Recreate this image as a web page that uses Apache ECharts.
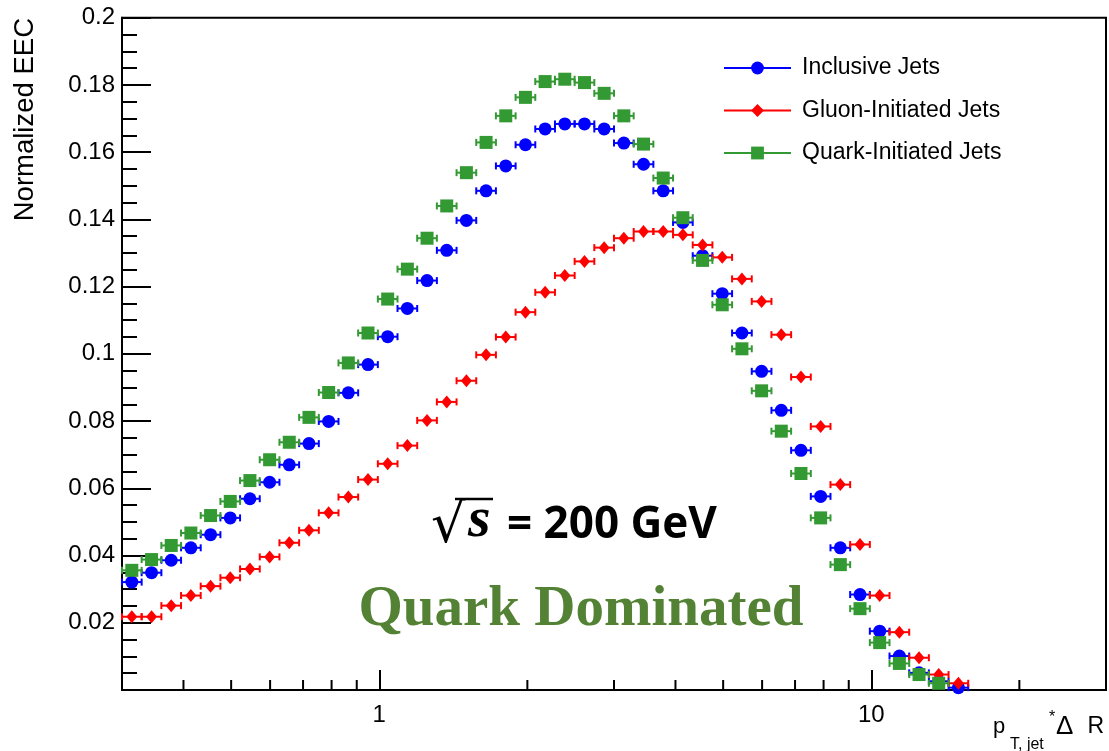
<!DOCTYPE html>
<html>
<head>
<meta charset="utf-8">
<script src="https://cdn.jsdelivr.net/npm/echarts@6.0.0/dist/echarts.min.js"></script>
<style>html,body{margin:0;padding:0;background:#fff}#c{width:1109px;height:751px}</style>
</head>
<body>
<div id="c"></div>
<script>
// ---- data ----
const binEdges = [0.3,0.3289,0.3607,0.3955,0.4336,0.4755,0.5213,0.5716,0.6268,0.6873,0.7536,0.8263,0.9060,0.9934,1.0892,1.1943,1.3095,1.4359,1.5744,1.7263,1.8929,2.0755,2.2757,2.4953,2.7360,3.0,3.2894,3.6068,3.9548,4.3363,4.7547,5.2134,5.7164,6.2679,6.8726,7.5357,8.2627,9.0599,9.9339,10.892,11.943,13.095,14.359,15.744];
const binCenters = [0.3141,0.3445,0.3777,0.4141,0.4541,0.4979,0.5459,0.5986,0.6563,0.7197,0.7891,0.8652,0.9487,1.0402,1.1406,1.2506,1.3713,1.5036,1.6486,1.8077,1.9821,2.1733,2.3830,2.6129,2.8650,3.1414,3.4445,3.7768,4.1412,4.5407,4.9788,5.4591,5.9858,6.5633,7.1965,7.8908,8.6521,9.4868,10.402,11.406,12.506,13.713,15.036];
const inclusiveJets = [0.0321,0.0349,0.0386,0.0423,0.0462,0.0512,0.0569,0.0618,0.0670,0.0733,0.0799,0.0884,0.0968,0.1051,0.1135,0.1218,0.1308,0.1397,0.1485,0.1559,0.1622,0.1669,0.1684,0.1684,0.1669,0.1627,0.1564,0.1485,0.1391,0.1292,0.1179,0.1062,0.0948,0.0832,0.0713,0.0576,0.0423,0.0284,0.0175,0.0101,0.0051,0.0026,0.0007];
const gluonJets = [0.0218,0.0218,0.0251,0.0281,0.0309,0.0334,0.0360,0.0396,0.0438,0.0475,0.0527,0.0574,0.0626,0.0673,0.0727,0.0802,0.0857,0.0920,0.0997,0.1050,0.1124,0.1183,0.1233,0.1275,0.1316,0.1344,0.1364,0.1364,0.1354,0.1324,0.1287,0.1223,0.1156,0.1057,0.0931,0.0784,0.0611,0.0433,0.0281,0.0172,0.0096,0.0046,0.0020];
const quarkJets = [0.0356,0.0388,0.0430,0.0467,0.0519,0.0561,0.0623,0.0685,0.0737,0.0811,0.0885,0.0973,0.1062,0.1163,0.1252,0.1344,0.1440,0.1539,0.1629,0.1708,0.1763,0.1810,0.1817,0.1807,0.1775,0.1708,0.1624,0.1523,0.1405,0.1278,0.1146,0.1015,0.0890,0.0770,0.0644,0.0512,0.0373,0.0242,0.0141,0.0079,0.0046,0.0020,null];
const seriesNames = ['Inclusive Jets','Gluon-Initiated Jets','Quark-Initiated Jets'];
const xTickValues = [1, 10];
const xTickLabels = ['1', '10'];
const xMinorTicks = [0.4,0.5,0.6,0.7,0.8,0.9,2,3,4,5,6,7,8,9,20];

// ---- styles ----
const SANS = '"Liberation Sans", Arial, Helvetica, sans-serif';
const styles = [
  {color:'#0000ff', symbol:'circle', size:13},
  {color:'#ff0000', symbol:'diamond', size:[11,13]},
  {color:'#339933', symbol:'rect', size:13}
];
const groups = [inclusiveJets, gluonJets, quarkJets];

function points(vals){
  const out = [];
  vals.forEach((v,i)=>{ if (v !== null) out.push([binCenters[i], v]); });
  return out;
}
function errData(vals){
  const out = [];
  vals.forEach((v,i)=>{ if (v !== null) out.push([binEdges[i], binEdges[i+1], v]); });
  return out;
}
function errRender(color){
  return function(params, api){
    const lo = api.coord([api.value(0), api.value(2)]);
    const hi = api.coord([api.value(1), api.value(2)]);
    const c = 3.5, st = {stroke: color, lineWidth: 2};
    return {type:'group', children:[
      {type:'line', shape:{x1:lo[0], y1:lo[1], x2:hi[0], y2:hi[1]}, style:st},
      {type:'line', shape:{x1:lo[0], y1:lo[1]-c, x2:lo[0], y2:lo[1]+c}, style:st},
      {type:'line', shape:{x1:hi[0], y1:hi[1]-c, x2:hi[0], y2:hi[1]+c}, style:st}
    ]};
  };
}

const series = [];
groups.forEach((vals, k)=>{
  const s = styles[k];
  series.push({
    type:'custom', name: seriesNames[k] + ' err', silent:true, clip:false,
    data: errData(vals), encode:{x:[0,1], y:2},
    renderItem: errRender(s.color), z: 2 + k*2
  });
  series.push({
    type:'line', name: seriesNames[k], data: points(vals),
    symbol: s.symbol, symbolSize: s.size, showSymbol:true, showAllSymbol:true,
    itemStyle:{color:s.color, opacity:1},
    lineStyle:{color:s.color, width:2, opacity:0},
    emphasis:{disabled:true}, silent:true, z: 3 + k*2
  });
});
series.push({
  type:'custom', name:'minor ticks', silent:true, clip:false,
  data: xMinorTicks.map(v=>[v, 0]), encode:{x:0, y:1}, z: 20,
  renderItem: function(params, api){
    const p = api.coord([api.value(0), 0]);
    return {type:'line', shape:{x1:p[0], y1:p[1], x2:p[0], y2:p[1]-10}, style:{stroke:'#000', lineWidth:2}};
  }
});

const chart = echarts.init(document.getElementById('c'), null, {renderer:'canvas'});
chart.setOption({
  animation:false,
  backgroundColor:'#fff',
  grid:{left:122, right:3, top:17.7, bottom:61, show:true, borderColor:'#000', borderWidth:2, containLabel:false, outerBoundsMode:'none'},
  tooltip:{show:false},
  legend:{
    orient:'vertical', left:723, top:56.5, padding:0, itemWidth:67, itemHeight:16, itemGap:19.5,
    selectedMode:false, data: seriesNames,
    lineStyle:{width:2, opacity:1},
    textStyle:{fontSize:23, color:'#000', fontFamily:SANS, padding:[0,0,0,6]}
  },
  xAxis:{
    type:'log', logBase:10, min:0.3, max:30,
    axisLine:{onZero:false, lineStyle:{color:'#000', width:2}},
    axisTick:{inside:true, length:20, lineStyle:{color:'#000', width:2}},
    minorTick:{show:false},
    splitLine:{show:false},
    axisLabel:{
      fontSize:24, color:'#000', fontFamily:SANS, margin:13, showMinLabel:true, showMaxLabel:true,
      formatter:function(v){
        for (let i=0;i<xTickValues.length;i++){ if (Math.abs(v - xTickValues[i]) < 1e-6*xTickValues[i]) return xTickLabels[i]; }
        return '';
      }
    }
  },
  yAxis:{
    type:'value', min:0, max:0.2, interval:0.02,
    axisLine:{show:true, onZero:false, lineStyle:{color:'#000', width:2}},
    axisTick:{show:true, inside:true, length:29, lineStyle:{color:'#000', width:2}},
    minorTick:{show:true, splitNumber:4, length:15, lineStyle:{color:'#000', width:2}},
    splitLine:{show:false}, minorSplitLine:{show:false},
    axisLabel:{
      fontSize:24, color:'#000', fontFamily:SANS, margin:7,
      formatter:function(v){ return Math.abs(v) < 1e-9 ? '' : String(+v.toFixed(3)); }
    }
  },
  graphic:[
    {type:'text', x:25, y:18, rotation:Math.PI/2, z:100,
     style:{text:'Normalized EEC', font:'27.5px ' + SANS, fill:'#000', align:'right', verticalAlign:'middle'}},
    {type:'text', x:993, y:727, z:100, style:{text:'p', font:'22px ' + SANS, fill:'#000', align:'left', verticalAlign:'middle'}},
    {type:'text', x:1010, y:745, z:100, style:{text:'T, jet', font:'16px ' + SANS, fill:'#000', align:'left', verticalAlign:'middle'}},
    {type:'text', x:1049, y:718, z:100, style:{text:'*', font:'16px ' + SANS, fill:'#000', align:'left', verticalAlign:'middle'}},
    {type:'text', x:1056, y:727, z:100, style:{text:'Δ', font:'26px ' + SANS, fill:'#000', align:'left', verticalAlign:'middle'}},
    {type:'text', x:1104, y:727, z:100, style:{text:'R', font:'23px ' + SANS, fill:'#000', align:'right', verticalAlign:'middle'}},
    {type:'text', x:431, y:528, z:100, style:{text:'√', font:'54px "DejaVu Sans"', fill:'#000', align:'left', verticalAlign:'middle'}},
    {type:'line', z:100, shape:{x1:455, y1:499, x2:493, y2:499}, style:{stroke:'#000', lineWidth:2.5}},
    {type:'text', x:468, y:521, z:100, style:{text:'s', font:'italic bold 58px "Liberation Serif"', fill:'#000', align:'left', verticalAlign:'middle'}},
    {type:'text', x:507, y:525, z:100, style:{text:'= 200 GeV', font:'bold 44px "Open Sans"', fill:'#000', align:'left', verticalAlign:'middle'}},
    {type:'text', x:581, y:610, z:100, style:{text:'Quark Dominated', font:'bold 57px "Liberation Serif"', fill:'#548235', align:'center', verticalAlign:'middle'}}
  ],
  series: series
});
</script>
</body>
</html>
